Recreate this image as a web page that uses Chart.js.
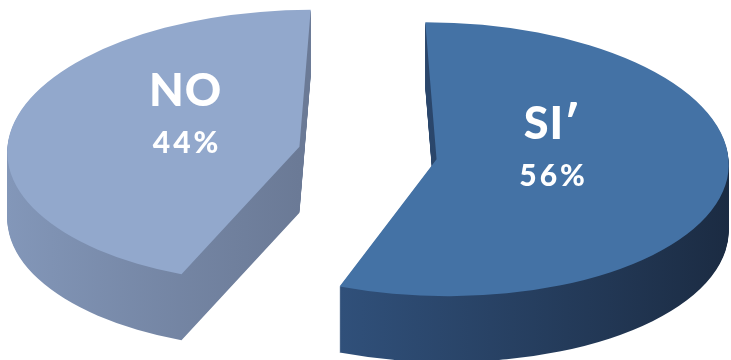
<!DOCTYPE html>
<html>
<head>
<meta charset="utf-8">
<script src="https://cdn.jsdelivr.net/npm/chart.js@4.4.0/dist/chart.umd.min.js"></script>
<style>
  html, body { margin: 0; padding: 0; background: #ffffff; }
  #wrap { width: 731px; height: 360px; position: relative; }
</style>
</head>
<body>
<div id="wrap"><canvas id="c" width="731" height="360"></canvas></div>
<script>
// ---- data ----
const categories = ['SI\u2032', 'NO'];
const values = [56, 44];
const percentLabels = ['56%', '44%'];

// ---- styles ----
const TOP_COLORS = ['#4472a5', '#92a8cc'];
const SIDE_LEFT = ['#30507a', '#8397b9'];
const SIDE_RIGHT = ['#1b2b42', '#6b7a96'];
const VIEW = { cx: 368, cy: 153, rx: 292, ry: 137, depth: 66, explode: 0.239,
               converge: 0.0012, labelFrac: 0.4, labelLift: 19 };
const NAME_FONT = '900 45px Lato, "Open Sans", sans-serif';
const PCT_FONT = '900 30px Lato, "Open Sans", sans-serif';

function geometry(chart) {
  const meta = chart.getDatasetMeta(0);
  const parts = meta.data.map(el => {
    const half = (el.startAngle + el.endAngle) / 2;
    const R = el.outerRadius;
    const e = VIEW.explode * R;
    return { el, half, R, dx: Math.cos(half) * e, dy: Math.sin(half) * e,
             ax: el.x + Math.cos(half) * e, ay: el.y + Math.sin(half) * e };
  });
  const mx = parts.reduce((s, p) => s + p.ax, 0) / parts.length;
  const my = parts.reduce((s, p) => s + p.ay, 0) / parts.length;
  const R = parts[0].R;
  const g = { parts, mx, my, R, sx: VIEW.rx / R, sy: VIEW.ry / R };
  parts.forEach(p => {
    p.sax = VIEW.cx + (p.ax - mx) * g.sx;          // apex on screen
    p.say = VIEW.cy + (p.ay - my) * g.sy;
    p.k = VIEW.converge * (p.sax - VIEW.cx);         // per-slice perspective lean
  });
  return g;
}
function applyView(ctx, g, p, d) {
  ctx.translate(0, d);
  ctx.transform(1, 0, p.k, 1, -p.k * p.say, 0);
  ctx.translate(VIEW.cx, VIEW.cy);
  ctx.scale(g.sx, g.sy);
  ctx.translate(-g.mx, -g.my);
}
function project(g, p, x, y) {
  const X = VIEW.cx + (x - g.mx) * g.sx;
  const Y = VIEW.cy + (y - g.my) * g.sy;
  return { x: X + p.k * (Y - p.say), y: Y };
}

const pie3d = {
  id: 'pie3d',
  beforeDatasetsDraw(chart) {
    const g = geometry(chart);
    const ctx = chart.ctx;
    const proto = Object.getPrototypeOf(g.parts[0].el);
    g.parts.forEach(p => {
      const el = p.el;
      let minX = el.x, maxX = el.x;
      for (let k = 0; k <= 96; k++) {
        const a = el.startAngle + (el.endAngle - el.startAngle) * k / 96;
        const x = el.x + Math.cos(a) * p.R;
        minX = Math.min(minX, x); maxX = Math.max(maxX, x);
      }
      p.minX = minX; p.maxX = maxX;
    });
    // extruded sides
    for (let d = VIEW.depth; d >= 1; d--) {
      g.parts.forEach((p, i) => {
        ctx.save();
        applyView(ctx, g, p, d);
        ctx.translate(p.dx, p.dy);
        const grad = ctx.createLinearGradient(p.minX, 0, p.maxX, 0);
        grad.addColorStop(0, SIDE_LEFT[i]);
        grad.addColorStop(1, SIDE_RIGHT[i]);
        const fake = Object.create(p.el);
        fake.options = Object.assign({}, p.el.options, { backgroundColor: grad, borderWidth: 0 });
        proto.draw.call(fake, ctx);
        ctx.restore();
      });
    }
    // top faces
    g.parts.forEach(p => {
      ctx.save();
      applyView(ctx, g, p, 0);
      ctx.translate(p.dx, p.dy);
      p.el.draw(ctx);
      ctx.restore();
    });
    return false;
  },
  afterDraw(chart) {
    const ctx = chart.ctx;
    const g = geometry(chart);
    ctx.save();
    ctx.fillStyle = '#ffffff';
    ctx.textAlign = 'center';
    ctx.textBaseline = 'middle';
    g.parts.forEach((p, i) => {
      const lx = p.ax + Math.cos(p.half) * p.R * VIEW.labelFrac;
      const ly = p.ay + Math.sin(p.half) * p.R * VIEW.labelFrac;
      const s = project(g, p, lx, ly);
      const y = s.y - VIEW.labelLift;
      ctx.font = NAME_FONT;
      try { ctx.letterSpacing = '1px'; } catch (e) {}
      ctx.fillText(categories[i], s.x, y - 26);
      ctx.font = PCT_FONT;
      try { ctx.letterSpacing = '3px'; } catch (e) {}
      ctx.fillText(percentLabels[i], s.x + 1.5, y + 26);
    });
    ctx.restore();
  }
};

const chart = new Chart(document.getElementById('c'), {
  type: 'pie',
  data: {
    labels: categories,
    datasets: [{
      data: values,
      backgroundColor: TOP_COLORS,
      borderWidth: 0,
      offset: 0,
      hoverOffset: 0
    }]
  },
  options: {
    responsive: false,
    animation: false,
    events: [],
    rotation: 0,
    layout: { padding: 0 },
    plugins: { legend: { display: false }, tooltip: { enabled: false } }
  },
  plugins: [pie3d]
});
</script>
</body>
</html>
